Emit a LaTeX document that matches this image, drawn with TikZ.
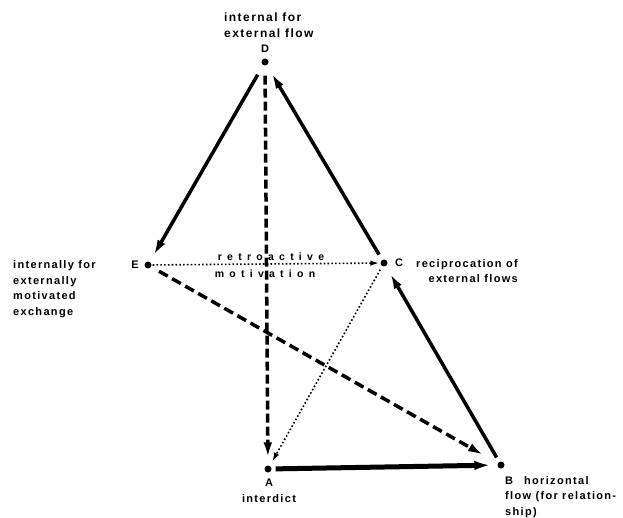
\documentclass[tikz,border=0pt]{standalone}
\usepackage{fontspec}
\newfontfamily\labelfont{Liberation Sans}[LetterSpace=12]
\newfontfamily\spacedfont{Liberation Sans}[LetterSpace=50]
\usetikzlibrary{arrows.meta}

\begin{document}
\begin{tikzpicture}[x=1pt,y=1pt,
    dot/.style={circle,fill,inner sep=0pt,minimum size=7pt},
    txt/.style={inner sep=0pt,font=\labelfont\bfseries\fontsize{11}{15.5}\selectfont},
    spaced/.style={inner sep=0pt,font=\spacedfont\bfseries\fontsize{10.5}{12}\selectfont},
    flow/.style={line width=3.5pt,-{Latex[length=17pt,width=8.5pt]}},
    dflow/.style={flow,dash pattern=on 10pt off 5pt},
    weak/.style={line width=1.6pt,dash pattern=on 1.6pt off 2.2pt,-{Latex[length=9pt,width=5.5pt]}}]
  \useasboundingbox (0,0) rectangle (623,517);
  \foreach \n/\x/\y in {D/265/455,E/148/252,C/384/254,A/268/48,B/501/52}
    \node[dot] (\n) at (\x,\y) {};
  \node[txt,font=\labelfont\bfseries\fontsize{12}{16}\selectfont,align=left,anchor=west] at (224,492) {internal for\\external flow};
  \node[txt] at (265,468) {D};
  \node[txt] at (135,252) {E};
  \node[txt,align=left,anchor=west] at (13,228) {internally for\\externally\\motivated\\exchange};
  \node[txt] at (399,254) {C};
  \node[txt,align=right,anchor=east] at (518,246) {reciprocation of\\external flows};
  \node[txt,align=center] at (269,26) {A\\interdict};
  \node[txt,align=left,anchor=west] at (505,20) {B\quad horizontal\\flow (for relation-\\ship)};
  \node[spaced] at (271,260) {retroactive};
  \node[spaced] at (265,243) {motivation};
  \draw[flow,shorten <=11pt,shorten >=6pt] (D) -- (E);
  \draw[flow,shorten <=6pt,shorten >=8pt] (C) -- (D);
  \draw[dflow,dash pattern=on 9pt off 4pt,shorten <=10pt,shorten >=6pt] (D) -- (A);
  \draw[weak,shorten <=1pt,shorten >=1pt] (E) -- (C);
  \draw[dflow,shorten <=9pt,shorten >=15pt] (E) -- (B);
  \draw[flow,shorten <=5pt,shorten >=7pt] (B) -- (C);
  \draw[flow,line width=5pt,-{Latex[length=17pt,width=9.5pt]},shorten <=4pt,shorten >=6pt] (A) -- (B);
  \draw[weak,shorten <=4pt,shorten >=5pt] (C) -- (A);
\end{tikzpicture}
\end{document}
